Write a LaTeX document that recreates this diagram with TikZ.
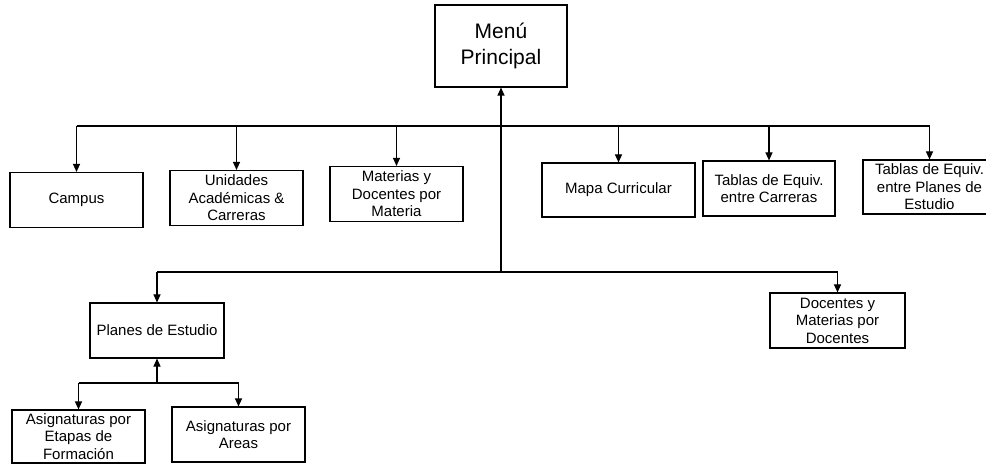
\documentclass[tikz,border=0pt]{standalone}
\usepackage{fontspec}
\setmainfont{Liberation Sans}
\usetikzlibrary{arrows.meta}
\tikzset{
  box/.style={draw, line width=1.1pt, align=center, inner sep=1pt,
    font=\fontsize{15}{17.5}\selectfont, minimum width=133pt, minimum height=55pt},
  link/.style={line width=1.1pt},
  arr/.style={line width=1.1pt, -{Triangle[length=8pt,width=7pt]}}
}
\begin{document}
\begin{tikzpicture}[x=1pt,y=-1pt]
\clip (0,0) rectangle (986,465);
\fill[white] (0,0) rectangle (986,465);
% nodes
\node[box, minimum width=132pt, minimum height=82pt, font=\fontsize{21}{26}\selectfont] (menu) at (501,46) {Menú\\Principal};
\node[box] (campus) at (76.5,200) {Campus};
\node[box] (unid) at (236.5,198) {Unidades\\Académicas \&\\Carreras};
\node[box] (mat) at (396.5,194) {Materias y\\Docentes por\\Materia};
\node[box, minimum width=153pt, minimum height=54pt] (mapa) at (618.5,190) {Mapa Curricular};
\node[box, minimum width=132pt] (tcar) at (769,188.5) {Tablas de Equiv.\\entre Carreras};
\node[box, minimum height=54pt] (tplan) at (929.5,187) {Tablas de Equiv.\\entre Planes de\\Estudio};
\node[box, minimum width=134pt] (planes) at (157,330.5) {Planes de Estudio};
\node[box, minimum width=135pt] (doc) at (837.5,320.5) {Docentes y\\Materias por\\Docentes};
\node[box, minimum height=53pt] (etapas) at (78.5,436.5) {Asignaturas por\\Etapas de\\Formación};
\node[box] (areas) at (238.5,434.5) {Asignaturas por\\Areas};
% bus coordinates
\coordinate (tbus) at (0,126);
\coordinate (lbus) at (0,272);
\coordinate (sbus) at (0,383);
% trunk to menu
\draw[arr] (menu.south |- lbus) -- (menu.south);
% top bus
\draw[link] (campus.north |- tbus) -- (tplan.north |- tbus);
\foreach \n in {campus,unid,mat,mapa,tcar,tplan}
  \draw[arr] (\n.north |- tbus) -- (\n.north);
% lower bus
\draw[link] (planes.north |- lbus) -- (doc.north |- lbus);
\draw[arr] (planes.north |- lbus) -- (planes.north);
\draw[arr] (doc.north |- lbus) -- (doc.north);
% planes sub-bus
\draw[arr] (planes.south |- sbus) -- (planes.south);
\draw[link] (etapas.north |- sbus) -- (areas.north |- sbus);
\draw[arr] (etapas.north |- sbus) -- (etapas.north);
\draw[arr] (areas.north |- sbus) -- (areas.north);
\end{tikzpicture}
\end{document}
